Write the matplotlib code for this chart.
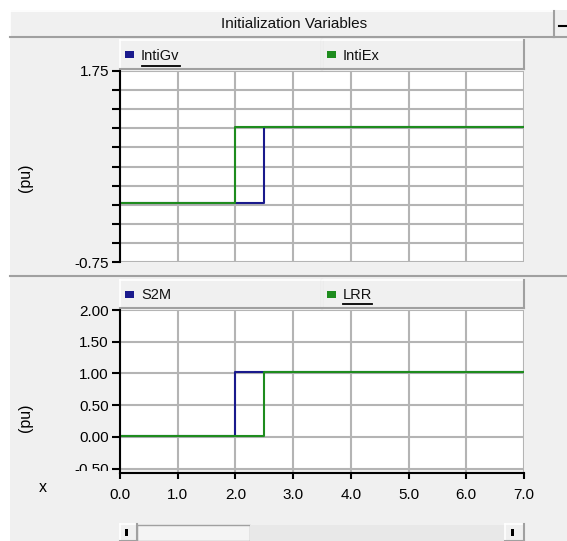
import numpy as np
import matplotlib
matplotlib.use('Agg')
import matplotlib.pyplot as plt
from matplotlib.patches import Rectangle
from matplotlib.ticker import FuncFormatter, MultipleLocator
from matplotlib.transforms import Bbox

plt.rcParams['font.family'] = ['Liberation Sans', 'DejaVu Sans']

# data
t = [0.0, 2.0, 2.5, 7.0]
inti_gv = [0.02, 0.02, 1.02, 1.02]
inti_ex = [0.02, 1.02, 1.02, 1.02]
s2m = [0.02, 1.02, 1.02, 1.02]
lrr = [0.02, 0.02, 1.02, 1.02]
top_names = ['IntiGv', 'IntiEx']
bot_names = ['S2M', 'LRR']
x_ticks = [0, 1, 2, 3, 4, 5, 6, 7]

W, H = 567, 541
BLUE = '#1a1a8c'
GREEN = '#1e8c1e'
PANEL = '#f0f0f0'
GRID = '#b4b4b4'

fig = plt.figure(figsize=(W / 100, H / 100), dpi=100)
fig.patch.set_facecolor('white')

def px(x0, y0, x1, y1):
    # pixel box (top-left origin) -> figure fraction rect
    return [x0 / W, 1 - y1 / H, (x1 - x0) / W, (y1 - y0) / H]

# background frame drawn in pixel coords
bg = fig.add_axes([0, 0, 1, 1], zorder=-5)
bg.set_xlim(0, W)
bg.set_ylim(H, 0)
bg.axis('off')
bg.add_patch(Rectangle((10, 10), W - 10, H - 10, fc=PANEL, ec='none'))

def bevel(x0, y0, x1, y1, fc=PANEL):
    bg.add_patch(Rectangle((x0, y0), x1 - x0, y1 - y0, fc=fc, ec='none'))
    bg.plot([x0, x1], [y0, y0], color='white', lw=1.2)
    bg.plot([x0, x0], [y0, y1], color='white', lw=1.2)
    bg.plot([x0, x1], [y1, y1], color='#a0a0a0', lw=1.5)
    bg.plot([x1, x1], [y0, y1], color='#a0a0a0', lw=1.5)

# title bar
bevel(10, 11, 554, 37)
bg.text(294, 24, 'Initialization Variables', ha='center', va='center', fontsize=11, color='#111111')
bg.plot([559, 567], [26, 26], color='black', lw=1.5)
bg.plot([554, 567], [37, 37], color='#a0a0a0', lw=1.5)

# separator between the two panels
bg.plot([10, W], [276, 276], color='#a0a0a0', lw=1.5)

def tabs(y0, y1, split, names, colors):
    edges = [120, split, 524]
    for i, (name, c) in enumerate(zip(names, colors)):
        bevel(edges[i], y0, edges[i + 1], y1)
        yc = (y0 + y1) / 2 + 1
        bg.add_patch(Rectangle((edges[i] + 5, yc - 4.5), 9, 7, fc=c, ec='none'))
        bg.text(edges[i] + 21, yc, name, ha='left', va='center', fontsize=10.5, color='#111111')

tabs(40, 69, 322, top_names, [BLUE, GREEN])
tabs(280, 308, 322, bot_names, [BLUE, GREEN])
# underline of the focused names
bg.plot([142, 180], [65.5, 65.5], color='black', lw=1.3)
bg.plot([343, 372], [304, 304], color='black', lw=1.3)

# scrollbar
bevel(120, 524, 137, 541)
bg.add_patch(Rectangle((125, 529), 2.5, 7, fc='black', ec='none'))
bg.add_patch(Rectangle((137, 525), 113, 16, fc='#f4f4f4', ec='#a0a0a0', lw=1))
bg.add_patch(Rectangle((250, 525), 255, 16, fc='#e8e8e8', ec='none'))
bevel(505, 524, 524, 541)
bg.add_patch(Rectangle((511, 529), 2.5, 7, fc='black', ec='none'))

def style(ax):
    ax.set_facecolor('white')
    ax.set_xlim(0, 7)
    ax.xaxis.set_major_locator(MultipleLocator(1))
    ax.grid(True, color=GRID, lw=1.5)
    ax.set_axisbelow(True)
    for s in ['top', 'right']:
        ax.spines[s].set_visible(False)
    ax.spines['left'].set_linewidth(1.5)
    ax.tick_params(axis='y', direction='out', length=6, width=1.5, labelsize=11, pad=2)
    ax.set_ylabel('(pu)', fontsize=11.5, labelpad=0)

# top plot
ax1 = fig.add_axes(px(120, 71, 524, 262))
style(ax1)
ax1.set_ylim(-0.75, 1.75)
ax1.yaxis.set_major_locator(MultipleLocator(0.25))
ax1.yaxis.set_major_formatter(FuncFormatter(
    lambda v, p: '%.2f' % v if abs(v - 1.75) < 1e-6 or abs(v + 0.75) < 1e-6 else ''))
ax1.spines['bottom'].set_visible(False)
ax1.tick_params(axis='x', length=0, labelbottom=False)
ax1.plot(t, inti_gv, drawstyle='steps-post', color=BLUE, lw=1.5)
ax1.plot(t, inti_ex, drawstyle='steps-post', color=GREEN, lw=1.5)
ax1.yaxis.set_label_coords(-0.215, 0.44)

# bottom plot
ax2 = fig.add_axes(px(120, 310, 524, 473))
style(ax2)
ax2.set_ylim(-0.57, 2.0)
ax2.set_yticks([-0.5, 0.0, 0.5, 1.0, 1.5, 2.0])
ax2.yaxis.set_major_formatter(FuncFormatter(lambda v, p: '%.2f' % v))
ax2.set_xticks(x_ticks)
ax2.xaxis.set_major_formatter(FuncFormatter(lambda v, p: '%.1f' % v))
ax2.spines['bottom'].set_linewidth(1.5)
ax2.tick_params(axis='x', direction='out', length=4, width=1.5, labelsize=11, pad=7)
ax2.plot(t, s2m, drawstyle='steps-post', color=BLUE, lw=1.5)
ax2.plot(t, lrr, drawstyle='steps-post', color=GREEN, lw=1.5)
ax2.yaxis.set_label_coords(-0.215, 0.34)
ax2.set_xlabel('x', fontsize=11.5)
ax2.xaxis.set_label_coords(-0.19, -0.045)
ax2.add_patch(Rectangle((0, -0.57), 7, 0.05, fc=PANEL, ec='none', zorder=0.5))

# the -0.50 label is cut off by the x-axis strip
clip = Bbox.from_extents(0, H - 471, W, H)
for tk in ax2.yaxis.get_major_ticks():
    tk.label1.set_clip_box(clip)
    tk.label1.set_clip_on(True)

fig.savefig('out.png', dpi=100)
